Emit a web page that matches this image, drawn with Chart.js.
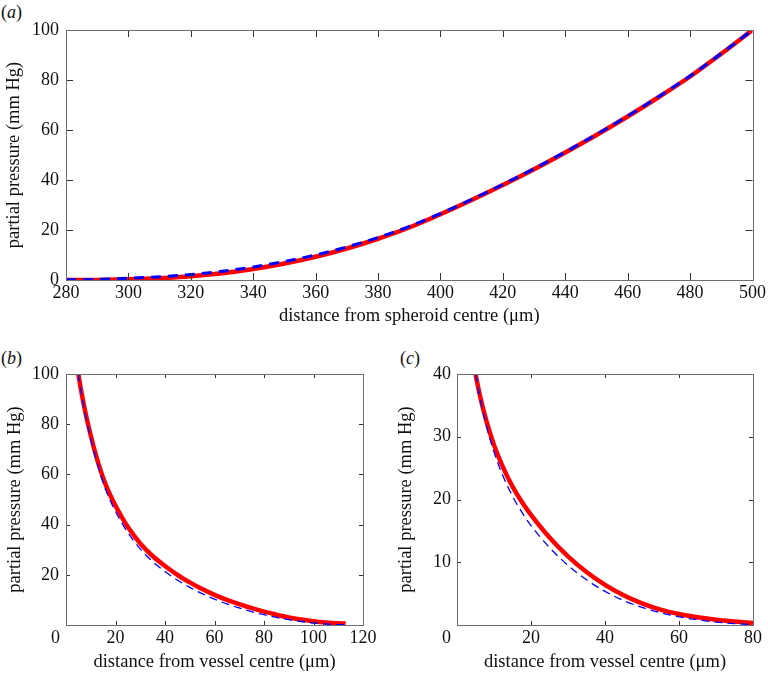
<!DOCTYPE html>
<html>
<head>
<meta charset="utf-8">
<script src="https://cdn.jsdelivr.net/npm/chart.js@4.4.1/dist/chart.umd.min.js"></script>
<style>
  html, body { margin: 0; padding: 0; background: #fff; }
  body { width: 768px; height: 674px; position: relative; overflow: hidden; }
  canvas { position: absolute; }
  .lbl { position: absolute; font-family: "Liberation Serif", "Times New Roman", serif; font-size: 18px; line-height: 20px; color: #111; }
</style>
</head>
<body>
<div class="lbl" style="left:1px; top:2px;">(<i>a</i>)</div>
<div class="lbl" style="left:1px; top:348px;">(<i>b</i>)</div>
<div class="lbl" style="left:400px; top:348px;">(<i>c</i>)</div>
<canvas id="ca" width="768" height="340" style="left:0; top:0;"></canvas>
<canvas id="cb" width="384" height="334" style="left:0; top:340px;"></canvas>
<canvas id="cc" width="384" height="334" style="left:384px; top:340px;"></canvas>
<script>
// ---------- data: panel (a) ----------
const aX    = [280, 290, 300, 310, 320, 330, 340, 350, 360, 370, 380, 390, 400, 410, 420, 430, 440, 450, 460, 470, 480, 490, 500];
const aRed  = [0, 0.05, 0.3, 0.75, 1.5, 2.7, 4.4, 6.6, 9.3, 12.6, 16.5, 21.0, 26.3, 32.0, 38.0, 44.3, 51.0, 58.0, 65.4, 73.2, 81.4, 90.5, 100];
const aBlue = [0.05, 0.25, 0.7, 1.3, 2.2, 3.5, 5.2, 7.4, 10.0, 13.2, 17.0, 21.4, 26.6, 32.2, 38.2, 44.5, 51.2, 58.2, 65.6, 73.4, 81.6, 90.6, 100];
// ---------- data: panel (b) ----------
const bX    = [5, 6, 8, 10, 12, 14, 16, 18, 20, 25, 30, 35, 40, 45, 50, 55, 60, 65, 70, 75, 80, 85, 90, 95, 100, 105, 110, 113];
const bRed  = [100, 94, 84, 75.5, 68, 61.5, 56, 51.5, 47.5, 39, 32.5, 27.5, 23.5, 20, 17, 14.3, 12, 10, 8.3, 6.7, 5.3, 4.1, 3.0, 2.2, 1.5, 1.0, 0.7, 0.6];
const bBlue = [100, 93.5, 83, 74, 66.5, 59.8, 54, 49.3, 45.2, 36.8, 30.3, 25.3, 21.3, 17.9, 15, 12.5, 10.3, 8.4, 6.8, 5.3, 4.1, 3.0, 2.1, 1.4, 0.8, 0.4, 0.15, 0.1];
// ---------- data: panel (c) ----------
const cX    = [5, 6, 7, 8, 9, 10, 12, 14, 16, 18, 20, 25, 30, 35, 40, 45, 50, 55, 60, 65, 70, 75, 80];
const cRed  = [40, 37.1, 34.6, 32.4, 30.45, 28.7, 25.7, 23.2, 21.05, 19.2, 17.55, 13.95, 10.95, 8.45, 6.4, 4.75, 3.45, 2.45, 1.75, 1.25, 0.85, 0.55, 0.3];
const cBlue = [40, 36.8, 34.0, 31.6, 29.45, 27.55, 24.35, 21.7, 19.45, 17.55, 15.85, 12.35, 9.5, 7.2, 5.35, 3.9, 2.8, 1.95, 1.3, 0.82, 0.47, 0.22, 0.07];
// ---------- axis labels ----------
const yTitle  = 'partial pressure (mm Hg)';
const aXTitle = 'distance from spheroid centre (\u03bcm)';
const bcXTitle = 'distance from vessel centre (\u03bcm)';

const FONT = '"Liberation Serif", "Times New Roman", serif';
const TXT = '#111';
const TICK_SIZE = 18;
const TITLE_SIZE = 18.5;

function pts(xs, ys) { return xs.map((x, i) => ({x: x, y: ys[i]})); }

const framePlugin = {
  id: 'frame',
  afterDatasetsDraw(chart, args, opts) {
    const {ctx, chartArea: ca, scales} = chart;
    const L = opts.tick || 4;
    ctx.save();
    ctx.lineWidth = 1;
    ctx.strokeStyle = '#333';
    ctx.beginPath();
    scales.x.ticks.forEach(t => {
      const px = Math.round(scales.x.getPixelForValue(t.value)) + 0.5;
      ctx.moveTo(px, ca.bottom); ctx.lineTo(px, ca.bottom - L);
      ctx.moveTo(px, ca.top); ctx.lineTo(px, ca.top + L);
    });
    scales.y.ticks.forEach(t => {
      const py = Math.round(scales.y.getPixelForValue(t.value)) + 0.5;
      ctx.moveTo(ca.left, py); ctx.lineTo(ca.left + L, py);
      ctx.moveTo(ca.right, py); ctx.lineTo(ca.right - L, py);
    });
    ctx.stroke();
    ctx.strokeStyle = '#6e6e6e';
    ctx.strokeRect(Math.round(ca.left) + 0.5, Math.round(ca.top) + 0.5,
                   Math.round(ca.right - ca.left), Math.round(ca.bottom - ca.top));
    if (opts.cornerZero) {
      ctx.fillStyle = TXT;
      ctx.font = TICK_SIZE + 'px ' + FONT;
      ctx.textAlign = 'center';
      ctx.textBaseline = 'middle';
      ctx.fillText('0', scales.x.getPixelForValue(0) - 10.5, ca.bottom + 13);
    }
    ctx.restore();
  }
};

function makeChart(id, cfg) {
  const hideZero = cfg.cornerZero;
  return new Chart(document.getElementById(id), {
    type: 'line',
    data: {
      datasets: [
        { data: pts(cfg.x, cfg.blue), borderColor: '#0000ff', borderWidth: cfg.blueW,
          borderDash: cfg.dash, pointRadius: 0, cubicInterpolationMode: 'monotone', order: 0, fill: false },
        { data: pts(cfg.x, cfg.red), borderColor: '#ff0000', borderWidth: cfg.redW,
          pointRadius: 0, cubicInterpolationMode: 'monotone', order: 1, fill: false }
      ]
    },
    options: {
      responsive: false,
      animation: false,
      devicePixelRatio: 1,
      layout: { padding: cfg.pad },
      plugins: { legend: { display: false }, tooltip: { enabled: false },
                 frame: { tick: cfg.tick, cornerZero: cfg.cornerZero } },
      scales: {
        x: {
          type: 'linear', min: cfg.xmin, max: cfg.xmax,
          grid: { display: false, drawTicks: false },
          border: { display: false },
          ticks: { stepSize: cfg.xstep, autoSkip: false, maxRotation: 0, padding: 2,
                   color: TXT, font: { family: FONT, size: TICK_SIZE },
                   callback: v => (hideZero && v === 0) ? '' : String(v) },
          title: { display: true, text: cfg.xTitle, color: TXT, font: { family: FONT, size: TITLE_SIZE },
                   padding: { top: 0, bottom: 0 } },
          afterFit: s => { s.height = cfg.xh; }
        },
        y: {
          type: 'linear', min: cfg.ymin, max: cfg.ymax,
          grid: { display: false, drawTicks: false },
          border: { display: false },
          ticks: { stepSize: cfg.ystep, padding: cfg.ypad, color: TXT, font: { family: FONT, size: TICK_SIZE },
                   callback: v => (hideZero && v === 0) ? '' : String(v) },
          title: { display: true, text: yTitle, color: TXT, font: { family: FONT, size: TITLE_SIZE },
                   padding: { top: cfg.ytpad, bottom: 0 } },
          afterFit: s => { s.width = cfg.yw; }
        }
      }
    },
    plugins: [framePlugin]
  });
}

makeChart('ca', { x: aX, red: aRed, blue: aBlue, redW: 4.5, blueW: 3, dash: [10, 7],
  xmin: 280, xmax: 500, xstep: 20, ymin: 0, ymax: 100, ystep: 20,
  xTitle: aXTitle, pad: { top: 30, right: 15, left: 0, bottom: 13 }, xh: 47, yw: 66,
  ypad: 7, ytpad: 3, tick: 7, cornerZero: false });

makeChart('cb', { x: bX, red: bRed, blue: bBlue, redW: 4.5, blueW: 1.3, dash: [8, 5],
  xmin: 0, xmax: 120, xstep: 20, ymin: 0, ymax: 100, ystep: 20,
  xTitle: bcXTitle, pad: { top: 34, right: 21, left: 0, bottom: 1 }, xh: 48, yw: 66,
  ypad: 7, ytpad: 4, tick: 4, cornerZero: true });

makeChart('cc', { x: cX, red: cRed, blue: cBlue, redW: 4.5, blueW: 1.3, dash: [8, 5],
  xmin: 0, xmax: 80, xstep: 20, ymin: 0, ymax: 40, ystep: 10,
  xTitle: bcXTitle, pad: { top: 34, right: 15, left: 0, bottom: 1 }, xh: 48, yw: 73,
  ypad: 6, ytpad: 11, tick: 4, cornerZero: true });
</script>
</body>
</html>
